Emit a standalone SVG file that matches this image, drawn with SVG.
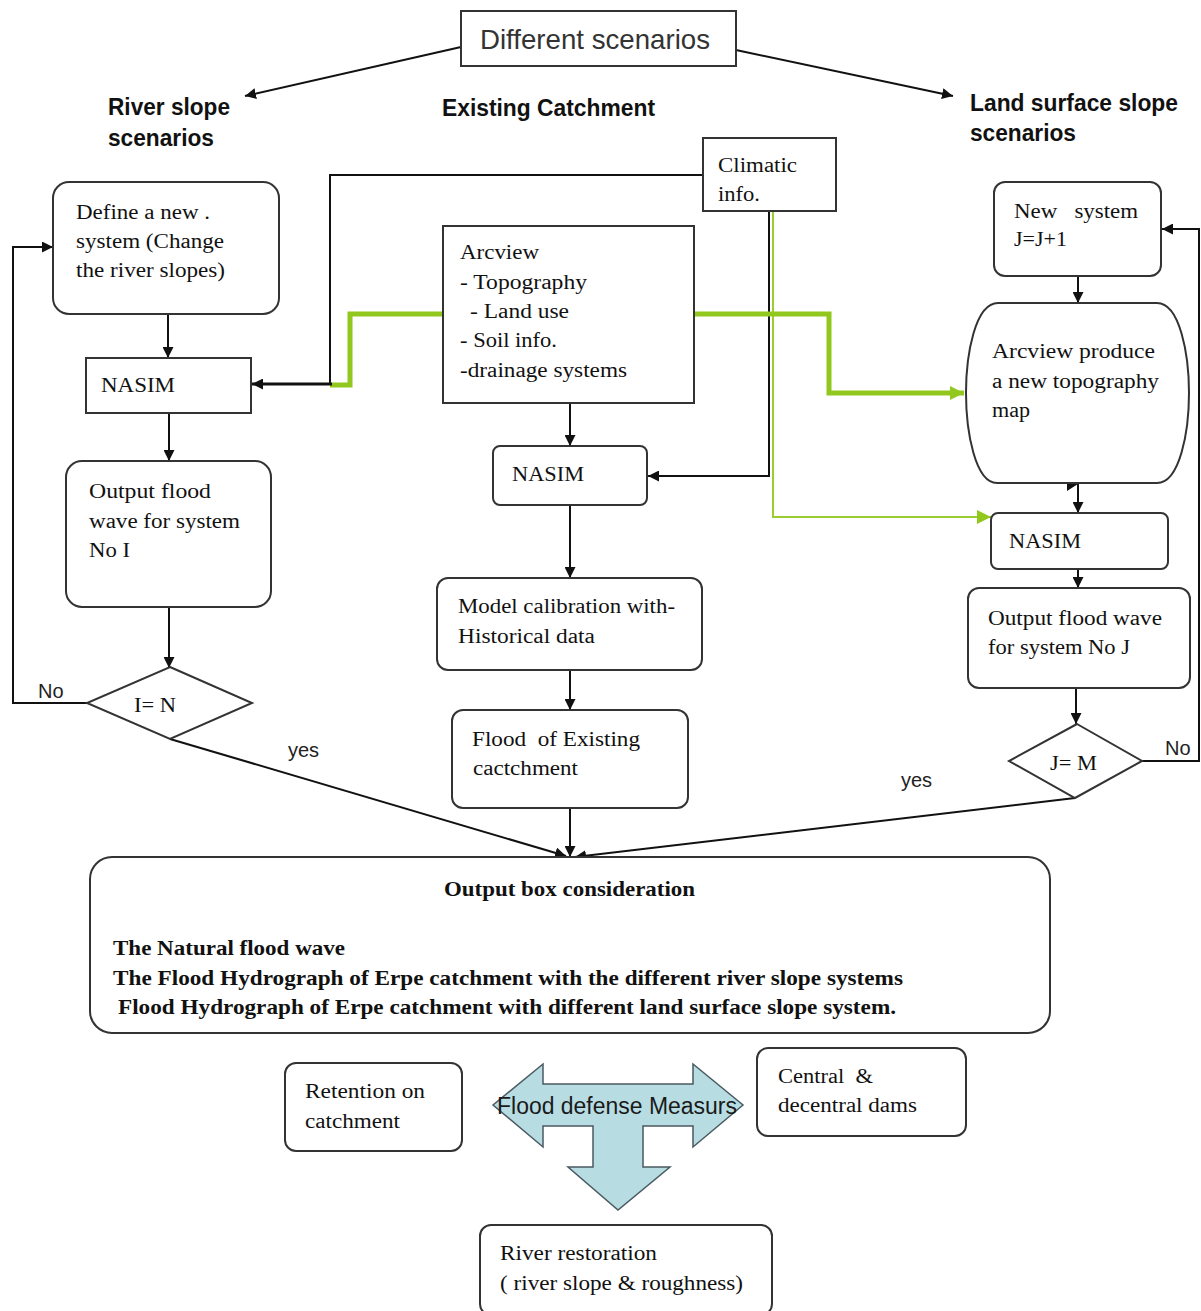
<svg xmlns="http://www.w3.org/2000/svg" width="1201" height="1311" viewBox="0 0 1201 1311">
  <style>
    .box { fill: #ffffff; stroke: #333333; stroke-width: 2; }
    .t { font-family: "Liberation Serif", "Times New Roman", serif; font-size: 20px; fill: #111111; white-space: pre; }
    .h { font-family: "Liberation Sans", Arial, sans-serif; font-size: 23px; font-weight: bold; fill: #111111; }
    .s { font-family: "Liberation Sans", Arial, sans-serif; font-size: 20px; fill: #222222; }
    .ob { font-family: "Liberation Serif", "Times New Roman", serif; font-size: 21px; font-weight: bold; fill: #111111; }
    .ln { fill: none; stroke: #111111; stroke-width: 2; }
    .gthick { fill: none; stroke: #92c81e; stroke-width: 5; }
    .gthin { fill: none; stroke: #9acd32; stroke-width: 2; }
  </style>
  <defs>
    <marker id="arrow" viewBox="0 0 10 10" refX="10" refY="5" markerWidth="11" markerHeight="11" markerUnits="userSpaceOnUse" orient="auto">
      <path d="M0,0 L10,5 L0,10 Z" fill="#111111"/>
    </marker>
    <marker id="garrow" viewBox="0 0 10 10" refX="10" refY="5" markerWidth="14" markerHeight="14" markerUnits="userSpaceOnUse" orient="auto">
      <path d="M0,0 L10,5 L0,10 Z" fill="#92c81e"/>
    </marker>
  </defs>

  <rect width="1201" height="1311" fill="#ffffff"/>

  <!-- connectors -->
  <g id="connectors">
    <!-- title to the two scenario headings -->
    <line class="ln" x1="461" y1="47" x2="245" y2="96" marker-end="url(#arrow)"/>
    <line class="ln" x1="736" y1="50" x2="953" y2="96" marker-end="url(#arrow)"/>

    <!-- climatic info feeds -->
    <polyline class="ln" points="703,175 330,175 330,384"/>
    <polyline class="gthick" points="443,314 350,314 350,385 330,385"/>
    <line x1="332" y1="384" x2="252" y2="384" stroke="#111111" stroke-width="3" marker-end="url(#arrow)"/>
    <polyline class="ln" points="769,211 769,476 648,476" marker-end="url(#arrow)"/>
    <polyline class="gthin" points="773,211 773,517 991,517" marker-end="url(#garrow)"/>
    <polyline class="gthick" points="694,314 829,314 829,393 964,393" marker-end="url(#garrow)"/>

    <!-- left column -->
    <line class="ln" x1="168" y1="314" x2="168" y2="358" marker-end="url(#arrow)"/>
    <line class="ln" x1="169" y1="413" x2="169" y2="461" marker-end="url(#arrow)"/>
    <line class="ln" x1="169" y1="607" x2="169" y2="668" marker-end="url(#arrow)"/>
    <polyline class="ln" points="87,703 13,703 13,247 53,247" marker-end="url(#arrow)"/>
    <line class="ln" x1="170" y1="739" x2="566" y2="856" marker-end="url(#arrow)"/>

    <!-- middle column -->
    <line class="ln" x1="570" y1="403" x2="570" y2="446" marker-end="url(#arrow)"/>
    <line class="ln" x1="570" y1="505" x2="570" y2="578" marker-end="url(#arrow)"/>
    <line class="ln" x1="570" y1="670" x2="570" y2="710" marker-end="url(#arrow)"/>
    <line class="ln" x1="570" y1="808" x2="570" y2="857" marker-end="url(#arrow)"/>

    <!-- right column -->
    <line class="ln" x1="1078" y1="276" x2="1078" y2="303" marker-end="url(#arrow)"/>
    <path d="M1067,477 L1078,484 L1067,491 Z" fill="#111111"/>
    <line class="ln" x1="1078" y1="484" x2="1078" y2="513" marker-end="url(#arrow)"/>
    <line class="ln" x1="1078" y1="569" x2="1078" y2="588" marker-end="url(#arrow)"/>
    <line class="ln" x1="1076" y1="688" x2="1076" y2="724" marker-end="url(#arrow)"/>
    <polyline class="ln" points="1142,761 1199,761 1199,229 1162,229" marker-end="url(#arrow)"/>
    <line class="ln" x1="1075" y1="798" x2="575" y2="857" marker-end="url(#arrow)"/>
  </g>

  <!-- connector labels -->
  <g id="labels">
    <text class="s" x="38" y="698">No</text>
    <text class="s" x="288" y="757">yes</text>
    <text class="s" x="1165" y="755">No</text>
    <text class="s" x="901" y="787">yes</text>
  </g>

  <!-- headings -->
  <g id="title">
    <rect class="box" x="461" y="11" width="275" height="55"/>
    <text x="480" y="49" font-family="Liberation Sans, Arial, sans-serif" font-size="28" fill="#333333" textLength="230" lengthAdjust="spacingAndGlyphs">Different scenarios</text>
  </g>
  <g id="heading-river">
    <text class="h" x="108" y="115" textLength="122" lengthAdjust="spacingAndGlyphs">River slope</text>
    <text class="h" x="108" y="146" textLength="106" lengthAdjust="spacingAndGlyphs">scenarios</text>
  </g>
  <g id="heading-existing">
    <text class="h" x="442" y="116" textLength="213" lengthAdjust="spacingAndGlyphs">Existing Catchment</text>
  </g>
  <g id="heading-land">
    <text class="h" x="970" y="111" textLength="208" lengthAdjust="spacingAndGlyphs">Land surface slope</text>
    <text class="h" x="970" y="141" textLength="106" lengthAdjust="spacingAndGlyphs">scenarios</text>
  </g>

  <!-- left column nodes -->
  <g id="define-system">
    <rect class="box" x="53" y="182" width="226" height="132" rx="16"/>
    <text class="t" x="76" y="219" textLength="134" lengthAdjust="spacingAndGlyphs">Define a new .</text>
    <text class="t" x="76" y="248" textLength="148" lengthAdjust="spacingAndGlyphs">system (Change</text>
    <text class="t" x="76" y="277" textLength="149" lengthAdjust="spacingAndGlyphs">the river slopes)</text>
  </g>
  <g id="nasim-left">
    <rect class="box" x="86" y="358" width="165" height="55"/>
    <text class="t" x="101" y="392" textLength="74" lengthAdjust="spacingAndGlyphs">NASIM</text>
  </g>
  <g id="output-i">
    <rect class="box" x="66" y="461" width="205" height="146" rx="16"/>
    <text class="t" x="89" y="498" textLength="122" lengthAdjust="spacingAndGlyphs">Output flood</text>
    <text class="t" x="89" y="528" textLength="151" lengthAdjust="spacingAndGlyphs">wave for system</text>
    <text class="t" x="89" y="557" textLength="41" lengthAdjust="spacingAndGlyphs">No I</text>
  </g>
  <g id="decision-i">
    <polygon class="box" points="170,667 252,703 170,739 87,703"/>
    <text x="134" y="712" font-family="Liberation Serif, serif" font-size="20" fill="#111111" textLength="42" lengthAdjust="spacingAndGlyphs">I= N</text>
  </g>

  <!-- middle column nodes -->
  <g id="climatic">
    <rect class="box" x="703" y="138" width="133" height="73"/>
    <text class="t" x="718" y="172" textLength="79" lengthAdjust="spacingAndGlyphs">Climatic</text>
    <text class="t" x="718" y="201" textLength="42" lengthAdjust="spacingAndGlyphs">info.</text>
  </g>
  <g id="arcview">
    <rect class="box" x="443" y="226" width="251" height="177"/>
    <text class="t" x="460" y="259" textLength="79" lengthAdjust="spacingAndGlyphs">Arcview</text>
    <text class="t" x="460" y="289" textLength="127" lengthAdjust="spacingAndGlyphs">- Topography</text>
    <text class="t" x="470" y="318" textLength="99" lengthAdjust="spacingAndGlyphs">- Land use</text>
    <text class="t" x="460" y="347" textLength="97" lengthAdjust="spacingAndGlyphs">- Soil info.</text>
    <text class="t" x="460" y="377" textLength="167" lengthAdjust="spacingAndGlyphs">-drainage systems</text>
  </g>
  <g id="nasim-middle">
    <rect class="box" x="493" y="446" width="154" height="59" rx="7"/>
    <text class="t" x="512" y="481" textLength="72" lengthAdjust="spacingAndGlyphs">NASIM</text>
  </g>
  <g id="calibration">
    <rect class="box" x="437" y="578" width="265" height="92" rx="11"/>
    <text class="t" x="458" y="613" textLength="217" lengthAdjust="spacingAndGlyphs">Model calibration with-</text>
    <text class="t" x="458" y="643" textLength="137" lengthAdjust="spacingAndGlyphs">Historical data</text>
  </g>
  <g id="flood-existing">
    <rect class="box" x="452" y="710" width="236" height="98" rx="11"/>
    <text class="t" x="472" y="746" textLength="168" lengthAdjust="spacingAndGlyphs" xml:space="preserve">Flood  of Existing</text>
    <text class="t" x="473" y="775" textLength="105" lengthAdjust="spacingAndGlyphs">cactchment</text>
  </g>

  <!-- right column nodes -->
  <g id="new-system">
    <rect class="box" x="994" y="182" width="167" height="94" rx="11"/>
    <text class="t" x="1014" y="218" textLength="124" lengthAdjust="spacingAndGlyphs" xml:space="preserve">New   system</text>
    <text class="t" x="1014" y="246" textLength="53" lengthAdjust="spacingAndGlyphs">J=J+1</text>
  </g>
  <g id="new-topography">
    <path class="box" d="M998,303 L1157,303 C1180,303 1189,355 1189,393 C1189,431 1180,483 1157,483 L997,483 C975,483 966,431 966,393 C966,355 975,303 998,303 Z"/>
    <text class="t" x="992" y="358" textLength="163" lengthAdjust="spacingAndGlyphs">Arcview produce</text>
    <text class="t" x="992" y="388" textLength="167" lengthAdjust="spacingAndGlyphs">a new topography</text>
    <text class="t" x="992" y="417" textLength="38" lengthAdjust="spacingAndGlyphs">map</text>
  </g>
  <g id="nasim-right">
    <rect class="box" x="991" y="513" width="177" height="56" rx="7"/>
    <text class="t" x="1009" y="548" textLength="72" lengthAdjust="spacingAndGlyphs">NASIM</text>
  </g>
  <g id="output-j">
    <rect class="box" x="968" y="588" width="222" height="100" rx="11"/>
    <text class="t" x="988" y="625" textLength="174" lengthAdjust="spacingAndGlyphs">Output flood wave</text>
    <text class="t" x="988" y="654" textLength="142" lengthAdjust="spacingAndGlyphs">for system No J</text>
  </g>
  <g id="decision-j">
    <polygon class="box" points="1077,724 1142,761 1075,798 1009,761"/>
    <text x="1050" y="770" font-family="Liberation Serif, serif" font-size="20" fill="#111111" textLength="47" lengthAdjust="spacingAndGlyphs">J= M</text>
  </g>

  <!-- results -->
  <g id="output-box">
    <rect class="box" x="90" y="857" width="960" height="176" rx="22"/>
    <text class="ob" x="444" y="896" textLength="251" lengthAdjust="spacingAndGlyphs">Output box consideration</text>
    <text class="ob" x="113" y="955" textLength="232" lengthAdjust="spacingAndGlyphs">The Natural flood wave</text>
    <text class="ob" x="113" y="985" textLength="790" lengthAdjust="spacingAndGlyphs">The Flood Hydrograph of Erpe catchment with the different river slope systems</text>
    <text class="ob" x="118" y="1014" textLength="778" lengthAdjust="spacingAndGlyphs">Flood Hydrograph of Erpe catchment with different land surface slope system.</text>
  </g>

  <!-- flood defence measures -->
  <g id="retention">
    <rect class="box" x="285" y="1063" width="177" height="88" rx="11"/>
    <text class="t" x="305" y="1098" textLength="120" lengthAdjust="spacingAndGlyphs">Retention on</text>
    <text class="t" x="305" y="1128" textLength="95" lengthAdjust="spacingAndGlyphs">catchment</text>
  </g>
  <g id="defense-measures">
    <polygon points="493,1105 543,1064 543,1084 693,1084 693,1064 743,1105 693,1147 693,1126 643,1126 643,1167 670,1167 618,1210 568,1167 593,1167 593,1126 543,1126 543,1147" fill="#b7dde3" stroke="#4a5a60" stroke-width="1.5"/>
    <text x="497" y="1114" font-family="Liberation Sans, Arial, sans-serif" font-size="23" fill="#1a1a1a" textLength="240" lengthAdjust="spacingAndGlyphs">Flood defense Measurs</text>
  </g>
  <g id="dams">
    <rect class="box" x="757" y="1048" width="209" height="88" rx="11"/>
    <text class="t" x="778" y="1083" textLength="95" lengthAdjust="spacingAndGlyphs" xml:space="preserve">Central  &amp;</text>
    <text class="t" x="778" y="1112" textLength="139" lengthAdjust="spacingAndGlyphs">decentral dams</text>
  </g>
  <g id="restoration">
    <rect class="box" x="480" y="1225" width="292" height="90" rx="11"/>
    <text class="t" x="500" y="1260" textLength="157" lengthAdjust="spacingAndGlyphs">River restoration</text>
    <text class="t" x="500" y="1290" textLength="243" lengthAdjust="spacingAndGlyphs">( river slope &amp; roughness)</text>
  </g>
</svg>
